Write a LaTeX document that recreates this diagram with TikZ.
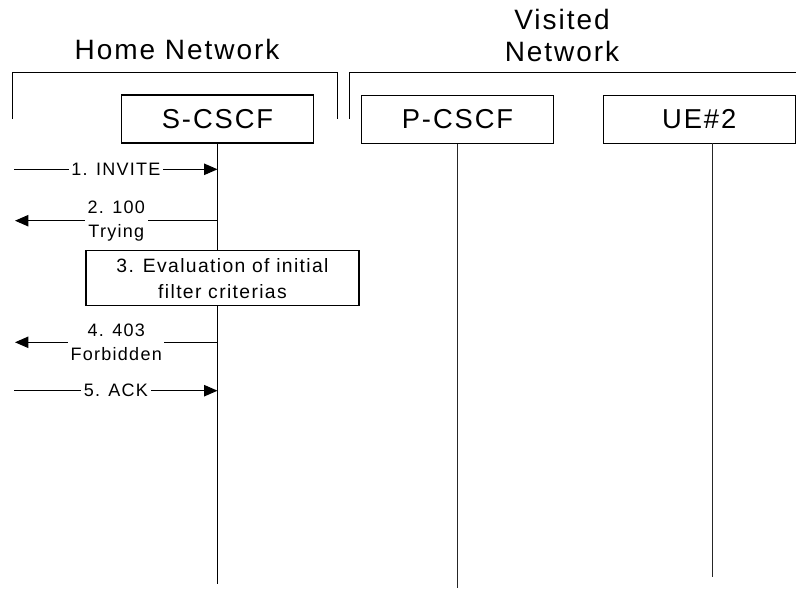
\documentclass[tikz,border=0pt]{standalone}
\usepackage{fontspec}
\setmainfont{Liberation Sans}[LetterSpace=7]
\usetikzlibrary{arrows.meta}

\begin{document}
\begin{tikzpicture}[x=0.75pt, y=-0.75pt,
    entity/.style={draw, line width=0.9pt, minimum width=144pt, minimum height=36pt,
      inner sep=0pt, font=\fontsize{20.5}{24}\selectfont},
    netlabel/.style={align=center, font=\fontsize{21}{24}\selectfont},
    bracket/.style={line width=0.9pt},
    lifeline/.style={line width=0.7pt, black!85},
    msg/.style={line width=0.8pt, -{Triangle[length=10pt, width=8.5pt]}},
    lbl/.style={fill=white, inner xsep=2pt, inner ysep=1pt, align=center,
      font=\fontsize{13.5}{18}\selectfont},
    evalbox/.style={draw, fill=white, line width=0.9pt, minimum width=204.75pt,
      minimum height=41.25pt, align=center, font=\fontsize{14.5}{19.5}\selectfont}]
  \useasboundingbox (0,0) rectangle (796,589);

  % network headings
  \node[netlabel] (home) at (177,49) {Home Network};
  \node[netlabel] (visited) at (562,35) {Visited\\Network};
  \draw[bracket] (12.3,119) -- (12.3,72.3) -- (337.3,72.3) -- (337.3,119);
  \draw[bracket] (349.5,118.5) -- (349.5,72.3) -- (797,72.3);

  % entities
  \node[entity] (scscf) at (217.5,119) {S-CSCF};
  \node[entity] (pcscf) at (457.5,119.3) {P-CSCF};
  \node[entity] (ue) at (699.2,119.2) {UE\#2};

  % lifelines
  \coordinate (s end) at (217.5,584);
  \coordinate (p end) at (457.5,588);
  \coordinate (ue top) at (712.7,143.2);
  \coordinate (ue end) at (712.7,577);
  \draw[lifeline, line width=1.2pt, black] (scscf.south) -- (s end);
  \draw[lifeline] (pcscf.south) -- (p end);
  \draw[lifeline] (ue top) -- (ue end);

  % messages
  \coordinate (c1) at (14.3,169.3);
  \coordinate (c2) at (15,220.7);
  \coordinate (c4) at (15,342.3);
  \coordinate (c5) at (14.3,390.7);
  \draw[msg] (c1) -- (c1 -| scscf) node[midway, lbl] {1. INVITE};
  \draw[msg] (c2 -| scscf) -- (c2) node[midway, lbl] {2. 100\\Trying};
  \node[evalbox] (eval) at (222.5,278.2) {3. Evaluation of initial\\filter criterias};
  \draw[msg] (c4 -| scscf) -- (c4) node[midway, lbl] {4. 403\\Forbidden};
  \draw[msg] (c5) -- (c5 -| scscf) node[midway, lbl] {5. ACK};
\end{tikzpicture}
\end{document}
